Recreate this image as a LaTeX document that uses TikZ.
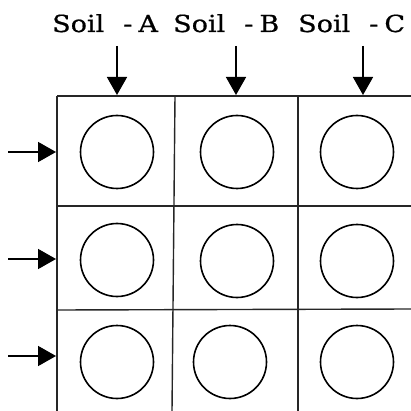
\documentclass[tikz,border=0pt]{standalone}
\usepackage{fontspec}
\newfontfamily\lblfont[FakeStretch=1.15,FakeBold=0.6]{DejaVu Serif}
\usetikzlibrary{arrows.meta}
\newcommand{\soillabel}[1]{Soil\hspace{19pt}-\hspace{6pt}#1}
\begin{document}
\begin{tikzpicture}[x=1pt,y=-1pt,
  gridline/.style={line width=1.4pt,draw=black!85},
  pot/.style={circle,draw,line width=1.6pt,minimum size=73pt,inner sep=0pt},
  feed/.style={line width=1.6pt,-{Triangle[width=20pt,length=18pt]}},
  lbl/.style={anchor=base west,inner sep=0pt,font=\lblfont\fontsize{23.5}{28}\selectfont}]
\useasboundingbox (0,0) rectangle (411,411);
% grid
\draw[gridline] (57,96) -- (411,96);
\draw[gridline] (57,206) -- (411,206);
\draw[gridline] (57,310) -- (411,309);
\draw[gridline] (57,96) -- (57,411);
\draw[gridline] (175,96) -- (172,411);
\draw[gridline] (298,96) -- (298,411);
% pots
\node[pot] (a1) at (117,152) {};
\node[pot] (b1) at (237,152) {};
\node[pot] (c1) at (357,152) {};
\node[pot] (a2) at (117,260) {};
\node[pot] (b2) at (237,261) {};
\node[pot] (c2) at (357,261) {};
\node[pot] (a3) at (117,362) {};
\node[pot] (b3) at (230,362) {};
\node[pot] (c3) at (357,362) {};
% labels
\node[lbl] (la) at (52,32) {\soillabel{A}};
\node[lbl] (lb) at (173,32) {\soillabel{B}};
\node[lbl] (lc) at (298,32) {\soillabel{C}};
% top arrows
\coordinate (ta) at (117,46);
\coordinate (tb) at (236,46);
\coordinate (tc) at (363,46);
\coordinate (ha) at (117,95);
\coordinate (hb) at (236,95);
\coordinate (hc) at (363,95);
\draw[feed] (ta) -- (ha);
\draw[feed] (tb) -- (hb);
\draw[feed] (tc) -- (hc);
% left arrows
\coordinate (s1) at (8,152);
\coordinate (s2) at (8,259);
\coordinate (s3) at (8,356);
\coordinate (e1) at (56,152);
\coordinate (e2) at (56,259);
\coordinate (e3) at (56,356);
\draw[feed] (s1) -- (e1);
\draw[feed] (s2) -- (e2);
\draw[feed] (s3) -- (e3);
\end{tikzpicture}
\end{document}
